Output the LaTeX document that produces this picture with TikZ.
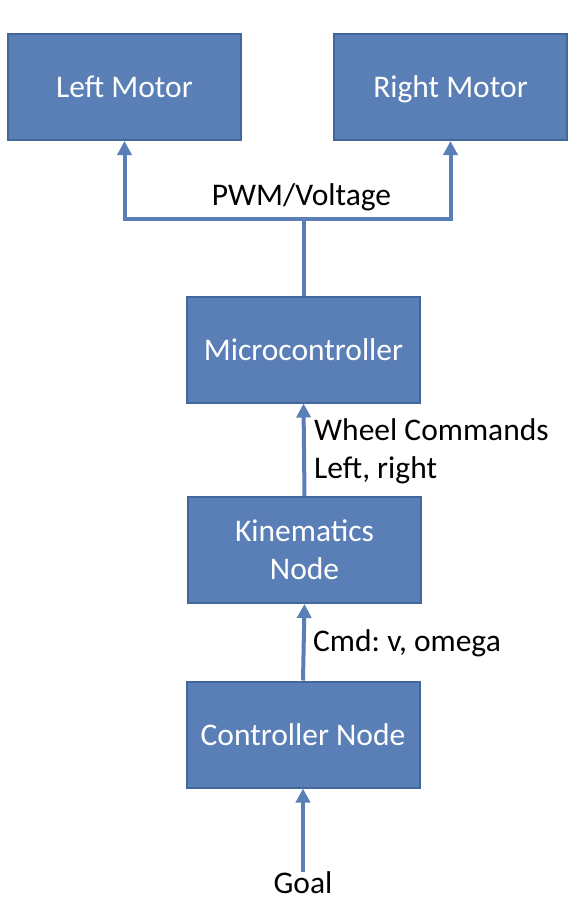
\documentclass[tikz,border=0pt]{standalone}
\usepackage{fontspec}
\setmainfont{Carlito}
\usetikzlibrary{arrows.meta}
\frenchspacing

\definecolor{boxblue}{HTML}{5A7FB7}
\definecolor{boxedge}{HTML}{41679B}

\tikzset{
  block/.style={draw=boxedge, line width=2pt, fill=boxblue, text=white,
    minimum width=233pt, minimum height=106pt, inner sep=0pt,
    text height=21pt, text depth=0pt, font=\fontsize{31.5}{38}\selectfont},
  twoline/.style={text height=, text depth=, align=center},
  link/.style={draw=boxblue, line width=4pt, -{Triangle[width=14pt,length=14pt]}},
  trunk/.style={draw=boxblue, line width=4pt},
  lbl/.style={inner sep=0pt, align=left, font=\fontsize{31.5}{38}\selectfont}
}

\begin{document}
\begin{tikzpicture}[x=1pt, y=-1pt]
  \useasboundingbox (0,0) rectangle (576,908);

  % Motors
  \node[block] (lmotor) at (124.5, 87) {Left Motor};
  \node[block] (rmotor) at (450.5, 87) {Right Motor};

  % Stack
  \node[block] (micro) at (303.5, 349.5) {Microcontroller};
  \node[block, twoline] (kin) at (304.5, 550) {Kinematics\\Node};
  \node[block] (ctrl) at (303, 734.5) {Controller Node};
  \node[lbl] (goal) at (303, 883) {Goal};

  % Split to the motors
  \coordinate (split) at (303.5, 219);
  \draw[trunk] (micro.north) -- (split);
  \draw[link] (split) -| (lmotor.south);
  \draw[link] (split) -| (rmotor.south);
  \node[lbl] (pwm) at (301.5, 197) {PWM/Voltage};

  % Up the stack
  \draw[link] (kin.north) -- (micro.south);
  \node[lbl, anchor=west] (wheel) at (314, 451) {Wheel Commands\\Left, right};
  \draw[link] (ctrl.north) -- (kin.south);
  \node[lbl, anchor=west] (cmd) at (313, 643) {Cmd: v, omega};
  \draw[link] (goal.north) -- (ctrl.south);
\end{tikzpicture}
\end{document}
